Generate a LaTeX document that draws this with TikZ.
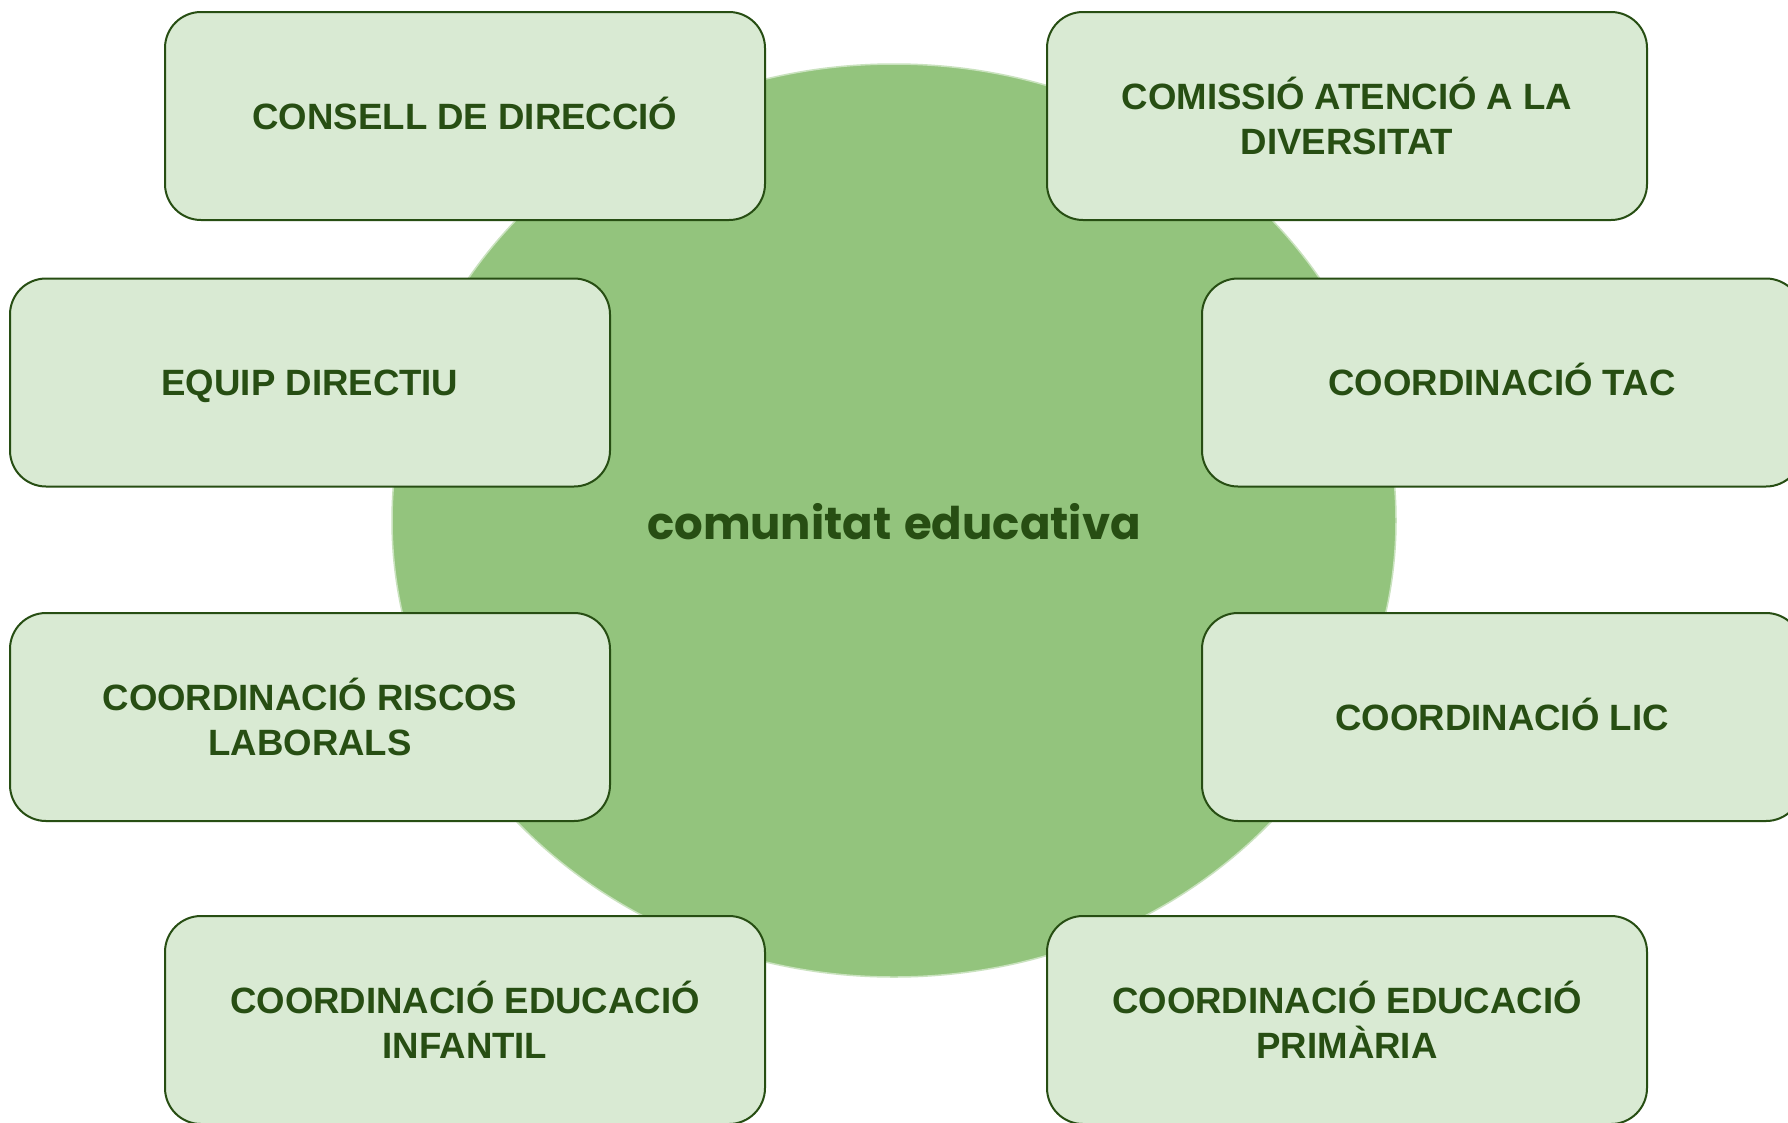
\documentclass[tikz,border=0pt]{standalone}
\usepackage{fontspec}
\setmainfont{Liberation Sans}
\newfontfamily\centerfont{Poppins}
\definecolor{darkgreen}{HTML}{274E13}
\definecolor{boxfill}{HTML}{D9EAD3}
\definecolor{circfill}{HTML}{93C47D}
\definecolor{circedge}{HTML}{C9E2BE}
\tikzset{
  orgbox/.style={draw=darkgreen, line width=2pt, fill=boxfill, rounded corners=36pt,
    minimum width=600pt, minimum height=208pt, align=center, text=darkgreen,
    font=\fontsize{36.6}{44.5}\selectfont\bfseries, inner sep=0pt},
  oneline/.style={text height=26.5pt, text depth=0pt}
}
\begin{document}
\begin{tikzpicture}[x=1pt, y=-1pt]
\useasboundingbox (0,0) rectangle (1788,1122);
\clip (0,0) rectangle (1788,1122);
\fill[white] (0,0) rectangle (1788,1122);
\draw[draw=circedge, line width=1.5pt, fill=circfill] (894,520.5) ellipse [x radius=502, y radius=456.5];
\node[text=darkgreen, font=\centerfont\fontsize{45}{54}\selectfont\bfseries] (hubtext) at (894,522) {comunitat\hspace{3pt} educativa};
\node[orgbox, oneline] (consell) at (465,116) {CONSELL DE DIRECCIÓ};
\node[orgbox] (comissio) at (1347,116) {COMISSIÓ ATENCIÓ A LA\\DIVERSITAT};
\node[orgbox, oneline] (equip) at (310,382.5) {EQUIP DIRECTIU};
\node[orgbox, oneline] (tac) at (1502,382.5) {COORDINACIÓ TAC};
\node[orgbox] (riscos) at (310,717) {COORDINACIÓ RISCOS\\LABORALS};
\node[orgbox, oneline] (lic) at (1502,717) {COORDINACIÓ LIC};
\node[orgbox] (infantil) at (465,1020) {COORDINACIÓ EDUCACIÓ\\INFANTIL};
\node[orgbox] (primaria) at (1347,1020) {COORDINACIÓ EDUCACIÓ\\PRIMÀRIA};
\end{tikzpicture}
\end{document}
